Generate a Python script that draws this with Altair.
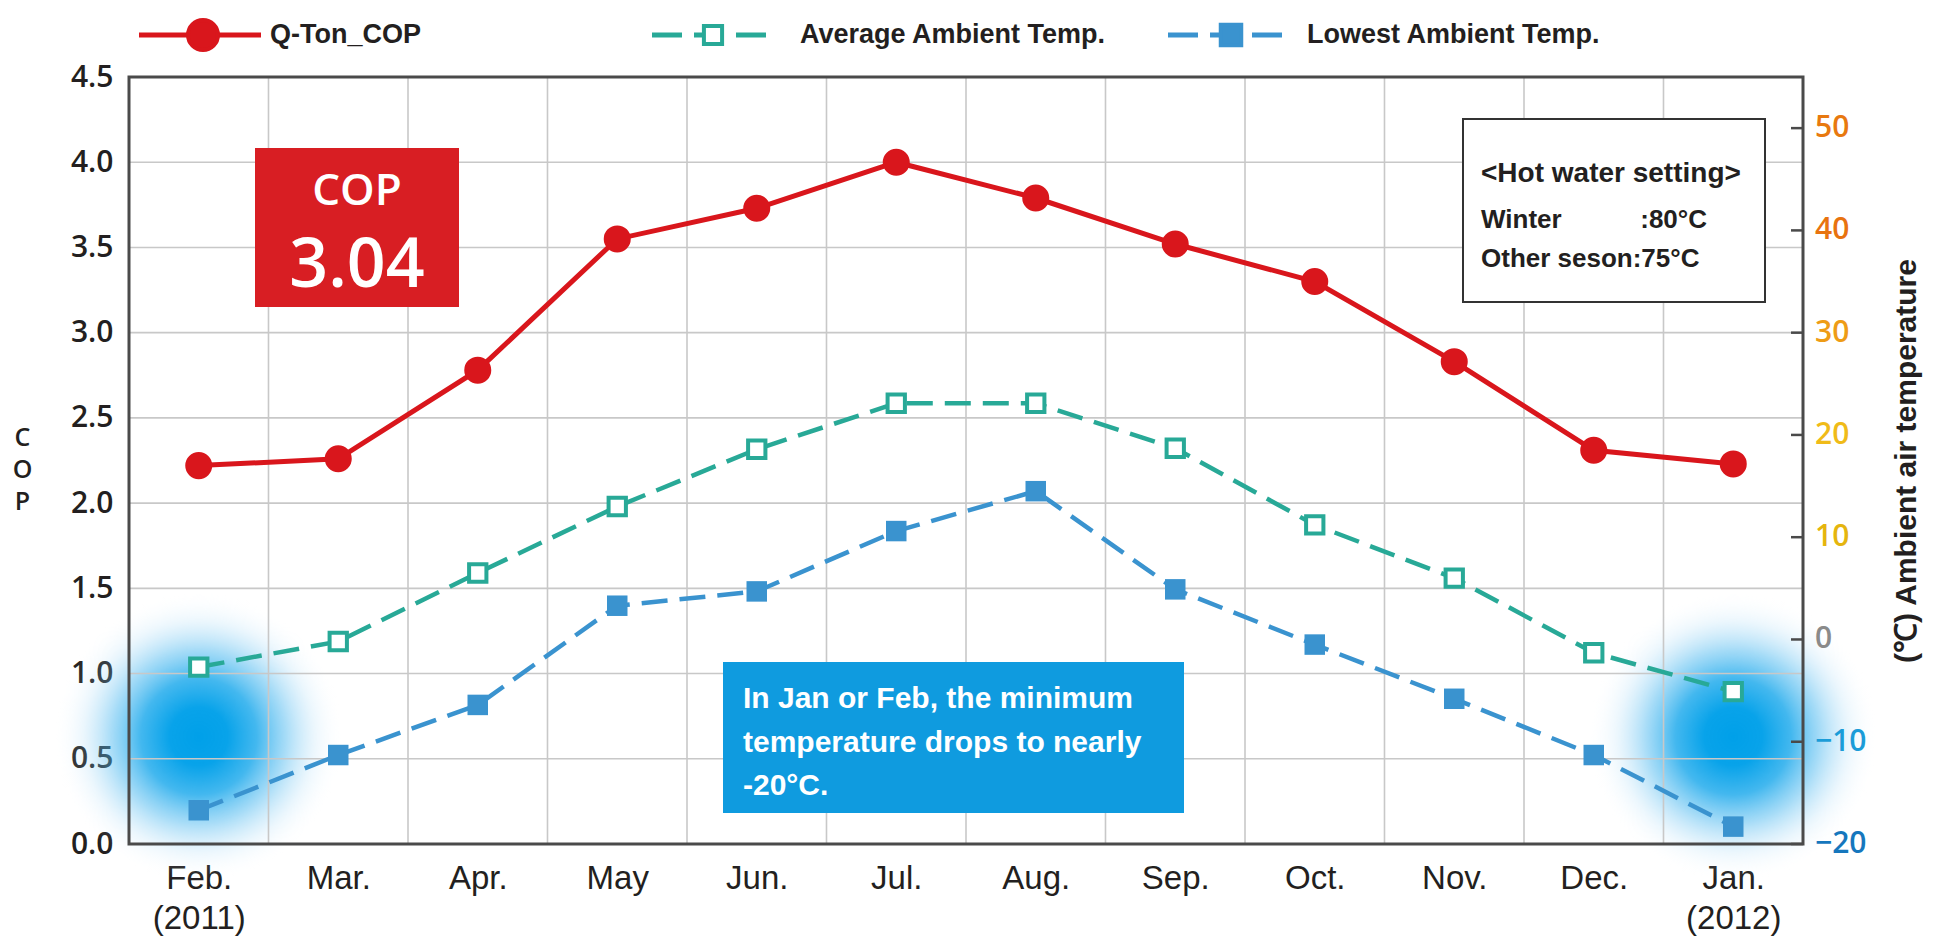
import altair as alt
import pandas as pd

# ---- data -------------------------------------------------------------
months = ["Feb.", "Mar.", "Apr.", "May", "Jun.", "Jul.", "Aug.", "Sep.", "Oct.", "Nov.", "Dec.", "Jan."]
years = ["(2011)", "", "", "", "", "", "", "", "", "", "", "(2012)"]
cop = [2.22, 2.26, 2.78, 3.55, 3.73, 4.00, 3.79, 3.52, 3.30, 2.83, 2.31, 2.23]
avg_temp = [-2.7, -0.2, 6.5, 13.0, 18.6, 23.1, 23.1, 18.7, 11.2, 6.0, -1.3, -5.1]
low_temp = [-16.7, -11.3, -6.4, 3.3, 4.7, 10.6, 14.5, 4.9, -0.5, -5.8, -11.3, -18.3]
cop_ticks = [0.0, 0.5, 1.0, 1.5, 2.0, 2.5, 3.0, 3.5, 4.0, 4.5]
temp_ticks = [-20, -10, 0, 10, 20, 30, 40, 50]
temp_tick_colors = ["#1677BD", "#1B9CD8", "#8A8A8A", "#E5B50E", "#F0BB18", "#EE9C16", "#E8730F", "#E8790F"]
glow_months = [0, 11]
glow_level = [0.63, 0.63]
series_names = ["Q-Ton_COP", "Average Ambient Temp.", "Lowest Ambient Temp."]
note_lines = "In Jan or Feb, the minimum\ntemperature drops to nearly\n-20°C."

# ---- styling ----------------------------------------------------------
W, H = 1674, 767
RED = "#D9161C"
TEAL = "#28A997"
BLUE = "#3A93CF"
INK = "#231F20"
GRID = "#C8C8C8"
FRAME = "#4A4A4A"
SANS = "Liberation Sans"
NUM = "Open Sans"

idx = list(range(len(months)))
df = pd.DataFrame({"i": idx, "cop": cop, "avg": avg_temp, "low": low_temp})
one = pd.DataFrame({"k": [0]})

xs = alt.Scale(domain=[-0.5, len(months) - 0.5], nice=False, zero=False)
ys_cop = alt.Scale(domain=[0, 4.5], nice=False)
ys_temp = alt.Scale(domain=[-20, 55], nice=False)

label_expr = "[" + ",".join(
    "[" + ",".join(repr(s) for s in ([m, y] if y else [m])) + "]" for m, y in zip(months, years)
) + "][datum.value]"

x_axis = alt.Axis(values=idx, labelExpr=label_expr, ticks=False, domain=False, grid=False,
                  labelFont=SANS, labelFontSize=33, labelColor=INK, labelLineHeight=40,
                  labelPadding=18, labelOverlap=False, labelFlush=False, title=None)

y_left_axis = alt.Axis(values=cop_ticks, format=".1f", ticks=False, domain=False, grid=False,
                       labelFont=NUM, labelFontSize=30, labelFontWeight=600, labelColor=INK,
                       labelPadding=16, title=["C", "O", "P"], titleAngle=0, titleX=-107,
                       titleY=360, titleAlign="center", titleBaseline="middle", titleFont=NUM,
                       titleFontSize=25, titleFontWeight=600, titleColor=INK, titleLineHeight=32)

y_right_axis = alt.Axis(orient="right", labels=False, ticks=False, domain=False, grid=False,
                        title="(℃) Ambient air temperature", titleAngle=270, titleX=103,
                        titleY=H / 2, titleAlign="center", titleBaseline="middle",
                        titleFont=SANS, titleFontSize=30, titleFontWeight="bold", titleColor=INK)


def X(field):
    return alt.X(f"{field}:Q", scale=xs, axis=x_axis)


def YL(field):
    return alt.Y(f"{field}:Q", scale=ys_cop, axis=y_left_axis)


def YR(field):
    return alt.Y(f"{field}:Q", scale=ys_temp, axis=y_right_axis)


def pix_text(text, x, y, **kw):
    return alt.Chart(one).mark_text(text=text, **kw).encode(x=alt.value(x), y=alt.value(y))


def pix_rect(x0, x1, y0, y1, **kw):
    return alt.Chart(one).mark_rect(**kw).encode(
        x=alt.value(x0), x2=alt.value(x1), y=alt.value(y0), y2=alt.value(y1))


# ---- COP (left axis) group ---------------------------------------------
glow_fill = alt.RadialGradient(
    gradient="radial",
    stops=[
        alt.GradientStop(offset=0, color="rgba(0,160,233,1)"),
        alt.GradientStop(offset=0.2, color="rgba(0,160,233,0.97)"),
        alt.GradientStop(offset=0.4, color="rgba(20,166,235,0.8)"),
        alt.GradientStop(offset=0.6, color="rgba(70,182,239,0.48)"),
        alt.GradientStop(offset=0.8, color="rgba(150,210,245,0.18)"),
        alt.GradientStop(offset=1, color="rgba(255,255,255,0)"),
    ],
    x1=0.5, y1=0.5, r1=0, x2=0.5, y2=0.5, r2=0.5,
)
glow = alt.Chart(pd.DataFrame({"i": glow_months, "c": glow_level})).mark_point(
    shape="circle", filled=True, fill=glow_fill, strokeWidth=0, size=290 * 290, opacity=1
).encode(x=X("i"), y=YL("c"))

hgrid = alt.Chart(pd.DataFrame({"g": cop_ticks[1:-1]})).mark_rule(
    color=GRID, strokeWidth=1.6).encode(y=YL("g"))
vgrid = alt.Chart(pd.DataFrame({"b": [i + 0.5 for i in idx[:-1]]})).mark_rule(
    color=GRID, strokeWidth=1.6).encode(x=X("b"))

cop_box = pix_rect(126, 330, 71, 230, color="#D81E23")
cop_head = pix_text("COP", 228, 128, font=NUM, fontSize=44, fontWeight=600,
                    color="white", align="center", baseline="alphabetic")
cop_mean = alt.Chart(df).transform_aggregate(m="mean(cop)").mark_text(
    font=NUM, fontSize=68, fontWeight=600, color="white", align="center", baseline="alphabetic"
).encode(x=alt.value(228), y=alt.value(210), text=alt.Text("m:Q", format=".2f"))

hot_box = pix_rect(1334, 1636, 42, 225, fill="white", stroke="#333333", strokeWidth=2)
hot_title = pix_text("<Hot water setting>", 1352, 105, font=SANS, fontSize=28,
                     fontWeight="bold", color=INK, align="left", baseline="alphabetic")
hot_w1 = pix_text("Winter", 1352, 151, font=SANS, fontSize=26, fontWeight="bold", color=INK,
                  align="left", baseline="alphabetic")
hot_w2 = pix_text(":80°C", 1578, 151, font=SANS, fontSize=26, fontWeight="bold", color=INK,
                  align="right", baseline="alphabetic")
hot_o = pix_text("Other seson:75°C", 1352, 190, font=SANS, fontSize=26, fontWeight="bold",
                 color=INK, align="left", baseline="alphabetic")

note_box = pix_rect(594, 1055, 585, 736, color="#0F9BDF")
note = pix_text(note_lines, 614, 631, font=SANS, fontSize=30, fontWeight="bold", color="white",
                align="left", baseline="alphabetic", lineBreak="\n", lineHeight=43.5)

cop_line = alt.Chart(df).mark_line(color=RED, strokeWidth=5).encode(x=X("i"), y=YL("cop"))
cop_pts = alt.Chart(df).mark_point(shape="circle", filled=True, color=RED, size=730, opacity=1).encode(
    x=X("i"), y=YL("cop"))

frame = pix_rect(0, W, 0, H, fillOpacity=0, stroke=FRAME, strokeWidth=3)

# legend across the top
LY = -42
legend_layers = []
legend_spec = [
    (series_names[0], RED, None, "circle", RED, 900, 10, 132, 74, 141),
    (series_names[1], TEAL, [30, 12], "square", "white", 330, 523, 646, 584, 671),
    (series_names[2], BLUE, [30, 12], "square", BLUE, 420, 1039, 1162, 1102, 1178),
]
for name, col, dash, shape, fill, size, x0, x1, xm, xt in legend_spec:
    rule_kw = dict(color=col, strokeWidth=5)
    if dash:
        rule_kw["strokeDash"] = dash
    legend_layers.append(alt.Chart(one).mark_rule(**rule_kw).encode(
        x=alt.value(x0), x2=alt.value(x1), y=alt.value(LY)))
    legend_layers.append(alt.Chart(one).mark_point(
        shape=shape, filled=True, fill=fill, stroke=col, strokeWidth=4, size=size, opacity=1
    ).encode(x=alt.value(xm), y=alt.value(LY)))
    legend_layers.append(pix_text(name, xt, LY, font=SANS, fontSize=27, fontWeight="bold",
                                  color=INK, align="left", baseline="middle"))

left = alt.layer(glow, hgrid, vgrid, cop_box, cop_head, cop_mean, hot_box, hot_title, hot_w1,
                 hot_w2, hot_o, note_box, note, cop_line, cop_pts, frame, *legend_layers)

# ---- ambient temperature (right axis) group ----------------------------
avg_line = alt.Chart(df).mark_line(color=TEAL, strokeWidth=4.5, strokeDash=[26, 12]).encode(
    x=X("i"), y=YR("avg"))
avg_pts = alt.Chart(df).mark_point(shape="square", filled=True, fill="white", stroke=TEAL,
                                   strokeWidth=4, size=300, opacity=1).encode(x=X("i"), y=YR("avg"))
low_line = alt.Chart(df).mark_line(color=BLUE, strokeWidth=4.5, strokeDash=[26, 12]).encode(
    x=X("i"), y=YR("low"))
low_pts = alt.Chart(df).mark_point(shape="square", filled=True, color=BLUE, size=420,
                                   opacity=1).encode(x=X("i"), y=YR("low"))

tk = pd.DataFrame({"t": temp_ticks})
temp_tick_marks = alt.Chart(tk).mark_rule(color=FRAME, strokeWidth=2.5).encode(
    y=YR("t"), x=alt.value(W - 12), x2=alt.value(W))
temp_tick_labels = alt.Chart(tk).mark_text(
    font=NUM, fontSize=30, fontWeight=600, align="left", baseline="middle"
).encode(
    y=YR("t"), x=alt.value(W + 12), text=alt.Text("t:Q", format="d"),
    color=alt.Color("t:N", scale=alt.Scale(domain=temp_ticks, range=temp_tick_colors), legend=None),
)

right = alt.layer(avg_line, avg_pts, low_line, low_pts, temp_tick_marks, temp_tick_labels)

chart = alt.layer(left, right).resolve_scale(y="independent", color="independent").properties(
    width=W, height=H,
    padding={"left": 129, "top": 77, "right": 132, "bottom": 107},
    autosize=alt.AutoSizeParams(type="none"),
).configure_view(strokeWidth=0).configure(background="white")

chart.save("out.html", embed_options={"renderer": "svg", "actions": False})
